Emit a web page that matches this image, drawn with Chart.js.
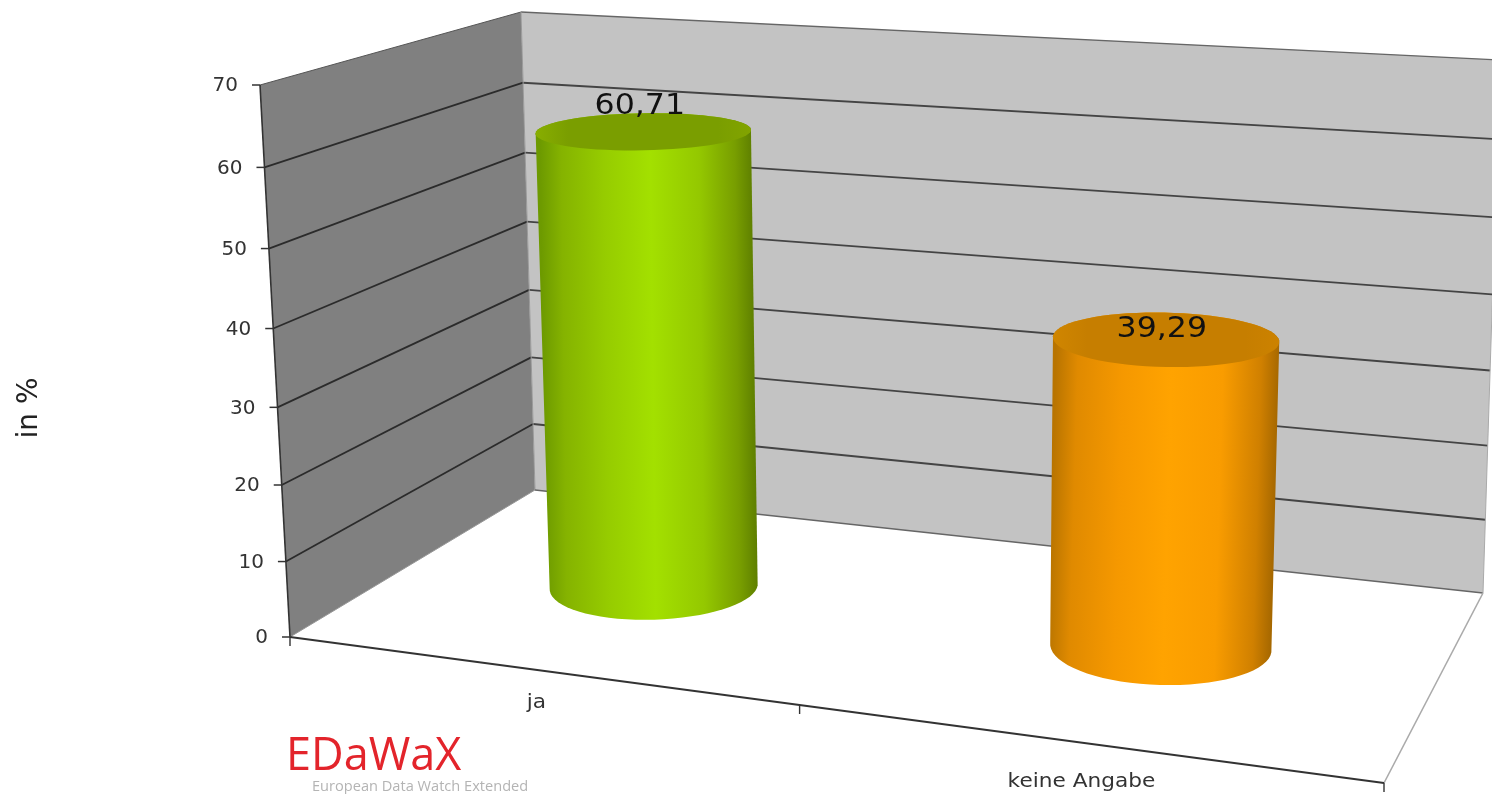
<!DOCTYPE html>
<html lang="de">
<head>
  <meta charset="UTF-8">
  <title>in %</title>
  <script src="https://cdn.jsdelivr.net/npm/chart.js"></script>
  <style>
    html, body { margin: 0; padding: 0; background: #fff; overflow: hidden; }
    canvas { display: block; }
  </style>
</head>
<body>
  <canvas id="chart" width="1492" height="794"></canvas>
  <script>
    // Chart data
    const categories = ['ja', 'keine Angabe'];
    const percentValues = [60.71, 39.29];
    const valueLabels = ['60,71', '39,29'];
    const axisTitle = 'in %';
    const logoTitle = 'EDaWaX';
    const logoSubtitle = 'European Data Watch Extended';

    // Box of the 3D chart on screen, [u][v][z] = category / value / depth
    const box = {
      '000': [290, 637], '001': [535, 490], '010': [260, 85],  '011': [521, 12],
      '100': [1384, 783], '101': [1483, 593], '110': [1413, 152], '111': [1500, 60]
    };
    const persp = { u: -0.128, v: -0.05, z: 0.25 };
    const barDepth = 0.485, barDepthRadius = 0.2;
    const labelLift = [24, 9];

    function project(u, v, z) {
      let x = 0, y = 0, sum = 0;
      for (const key in box) {
        const cu = +key[0], cv = +key[1], cz = +key[2];
        const w = (cu ? u : 1 - u) * (cv ? v : 1 - v) * (cz ? z : 1 - z) *
                  (1 + persp.u * cu + persp.v * cv + persp.z * cz);
        x += w * box[key][0];
        y += w * box[key][1];
        sum += w;
      }
      return [x / sum, y / sum];
    }

    function polyLine(ctx, pts, color, width) {
      ctx.beginPath();
      pts.forEach((p, i) => i ? ctx.lineTo(p[0], p[1]) : ctx.moveTo(p[0], p[1]));
      ctx.strokeStyle = color;
      ctx.lineWidth = width;
      ctx.stroke();
    }

    function fillPoly(ctx, pts, fill) {
      ctx.beginPath();
      pts.forEach((p, i) => i ? ctx.lineTo(p[0], p[1]) : ctx.moveTo(p[0], p[1]));
      ctx.closePath();
      ctx.fillStyle = fill;
      ctx.fill();
    }

    function stretchedText(ctx, text, x, y, font, color, stretch) {
      ctx.save();
      ctx.font = font;
      ctx.fillStyle = color;
      ctx.translate(x, y);
      ctx.scale(stretch, 1);
      ctx.fillText(text, 0, 0);
      ctx.restore();
    }

    function vOf(chart, value) {
      const s = chart.scales.y;
      return (s.bottom - s.getPixelForValue(value)) / (s.bottom - s.top);
    }

    const stopAt = [0, 0.1, 0.3, 0.52, 0.75, 0.92, 1];
    const capAt = [0, 0.15, 0.85, 1];
    const palette = [
      { cap: ['#88ae00', '#7a9e00', '#7a9e00', '#82a400'],
        body: ['#6d9a00', '#85b300', '#96cc00', '#a3e000', '#94c800', '#789e00', '#5f8000'] },
      { cap: ['#d08600', '#c67e00', '#c67e00', '#cc8200'],
        body: ['#b87400', '#e08a00', '#f59800', '#ffa300', '#f99c00', '#d08000', '#a66800'] }
    ];

    const box3d = {
      id: 'box3d',
      // walls, grid and axes
      beforeDatasetsDraw(chart) {
        const ctx = chart.ctx;
        const wallSide = [project(0, 0, 0), project(0, 1, 0), project(0, 1, 1), project(0, 0, 1)];
        const wallBack = [project(0, 0, 1), project(0, 1, 1), project(1, 1, 1), project(1, 0, 1)];
        fillPoly(ctx, wallSide, '#808080');
        fillPoly(ctx, wallBack, '#c3c3c3');

        ctx.textAlign = 'right';
        ctx.textBaseline = 'middle';
        chart.scales.y.ticks.forEach(t => {
          const v = vOf(chart, t.value);
          const a = project(0, v, 0), b = project(0, v, 1), c = project(1, v, 1);
          if (t.value > 0 && t.value < 70) polyLine(ctx, [a, b], '#2b2b2b', 1.8);
          if (t.value === 70) polyLine(ctx, [a, b], '#555', 1);
          if (t.value > 0) polyLine(ctx, [b, c], t.value === 70 ? '#666' : '#444', t.value === 70 ? 1.4 : 1.9);
          polyLine(ctx, [[a[0] - 8, a[1]], [a[0], a[1]]], '#333', 1.5);
          stretchedText(ctx, String(t.value), a[0] - 22, a[1] + 1, '20px "DejaVu Sans"', '#333', 1);
        });

        // edges
        polyLine(ctx, [project(0, 0, 0), project(0, 1, 0)], '#333', 1.6);
        polyLine(ctx, [project(0, 1, 1), project(0, 0, 1)], '#999', 1);
        polyLine(ctx, [project(0, 0, 0), project(0, 0, 1)], '#999', 1);
        polyLine(ctx, [project(0, 0, 1), project(1, 0, 1)], '#666', 1.4);
        polyLine(ctx, [project(1, 0, 1), project(1, 0, 0)], '#aaa', 1.6);
        polyLine(ctx, [project(1, 0, 1), project(1, 1, 1)], '#aaa', 1);
        polyLine(ctx, [project(0, 0, 0), project(1, 0, 0)], '#333', 1.9);

        // category ticks on the front edge
        [0, 0.5, 1].forEach(u => {
          const p = project(u, 0, 0);
          polyLine(ctx, [p, [p[0], p[1] + 9]], '#333', 1.4);
        });
      },
      // cylinders instead of flat bars
      beforeDatasetDraw(chart, args) {
        const ctx = chart.ctx;
        const area = chart.chartArea;
        args.meta.data.forEach((bar, i) => {
          const u = (bar.x - area.left) / (area.right - area.left);
          const ru = bar.width / 2 / (area.right - area.left);
          const v = vOf(chart, percentValues[i]);
          const ring = vv => {
            const pts = [];
            for (let k = 0; k < 72; k++) {
              const a = k / 72 * Math.PI * 2;
              pts.push(project(u + ru * Math.cos(a), vv, barDepth + barDepthRadius * Math.sin(a)));
            }
            return pts;
          };
          const low = ring(0), high = ring(v);
          const extreme = (pts, sign) => pts.reduce((m, p, k) => (sign * p[0] > sign * pts[m][0] ? k : m), 0);
          const lowL = extreme(low, -1), lowR = extreme(low, 1);
          const highL = extreme(high, -1), highR = extreme(high, 1);

          // body: top-left, round the front of the base, top-right
          const front = [high[highL]];
          for (let k = lowL; ; k = (k + 1) % 72) {
            front.push(low[k]);
            if (k === lowR) break;
          }
          front.push(high[highR]);

          const left = [(low[lowL][0] + high[highL][0]) / 2, (low[lowL][1] + high[highL][1]) / 2];
          const right = [(low[lowR][0] + high[highR][0]) / 2, (low[lowR][1] + high[highR][1]) / 2];
          const grad = ctx.createLinearGradient(left[0], left[1], right[0], right[1]);
          palette[i].body.forEach((c, k) => grad.addColorStop(stopAt[k], c));
          fillPoly(ctx, front, grad);
          fillPoly(ctx, high, grad);

          const capGrad = ctx.createLinearGradient(high[highL][0], 0, high[highR][0], 0);
          palette[i].cap.forEach((c, k) => capGrad.addColorStop(capAt[k], c));
          fillPoly(ctx, high, capGrad);
        });
        return false;
      },
      // text
      afterDatasetsDraw(chart) {
        const ctx = chart.ctx;
        const area = chart.chartArea;
        const meta = chart.getDatasetMeta(0);
        ctx.textAlign = 'center';
        ctx.textBaseline = 'middle';
        meta.data.forEach((bar, i) => {
          const u = (bar.x - area.left) / (area.right - area.left);
          const top = project(u, vOf(chart, percentValues[i]), barDepth);
          stretchedText(ctx, valueLabels[i], top[0] - 4, top[1] - labelLift[i], '29px "DejaVu Sans"', '#111', 1.09);
          const foot = project(u, 0, 0);
          stretchedText(ctx, categories[i], foot[0], foot[1] + 33 + i * 6, '19px "DejaVu Sans"', '#333', 1.14);
        });

        ctx.save();
        ctx.translate(30, 408);
        ctx.rotate(-Math.PI / 2);
        stretchedText(ctx, axisTitle, 0, 0, '28px "DejaVu Sans"', '#222', 1);
        ctx.restore();

        ctx.textAlign = 'left';
        ctx.textBaseline = 'alphabetic';
        stretchedText(ctx, logoTitle, 286, 770, '45px "Open Sans"', '#e3242b', 1);
        stretchedText(ctx, logoSubtitle, 312, 791, '14.6px "Open Sans"', '#b4b4b4', 1);
      }
    };

    new Chart(document.getElementById('chart'), {
      type: 'bar',
      data: {
        labels: categories,
        datasets: [{ data: percentValues, categoryPercentage: 1, barPercentage: 0.397 }]
      },
      options: {
        responsive: false,
        animation: false,
        layout: { padding: { left: 290, right: 108, top: 85, bottom: 157 } },
        plugins: { legend: { display: false }, tooltip: { enabled: false } },
        scales: {
          x: { display: true, grid: { display: false }, border: { display: false }, ticks: { display: false } },
          y: {
            display: true, min: 0, max: 70,
            grid: { display: false }, border: { display: false },
            ticks: { display: false, stepSize: 10 }
          }
        }
      },
      plugins: [box3d]
    });
  </script>
</body>
</html>
